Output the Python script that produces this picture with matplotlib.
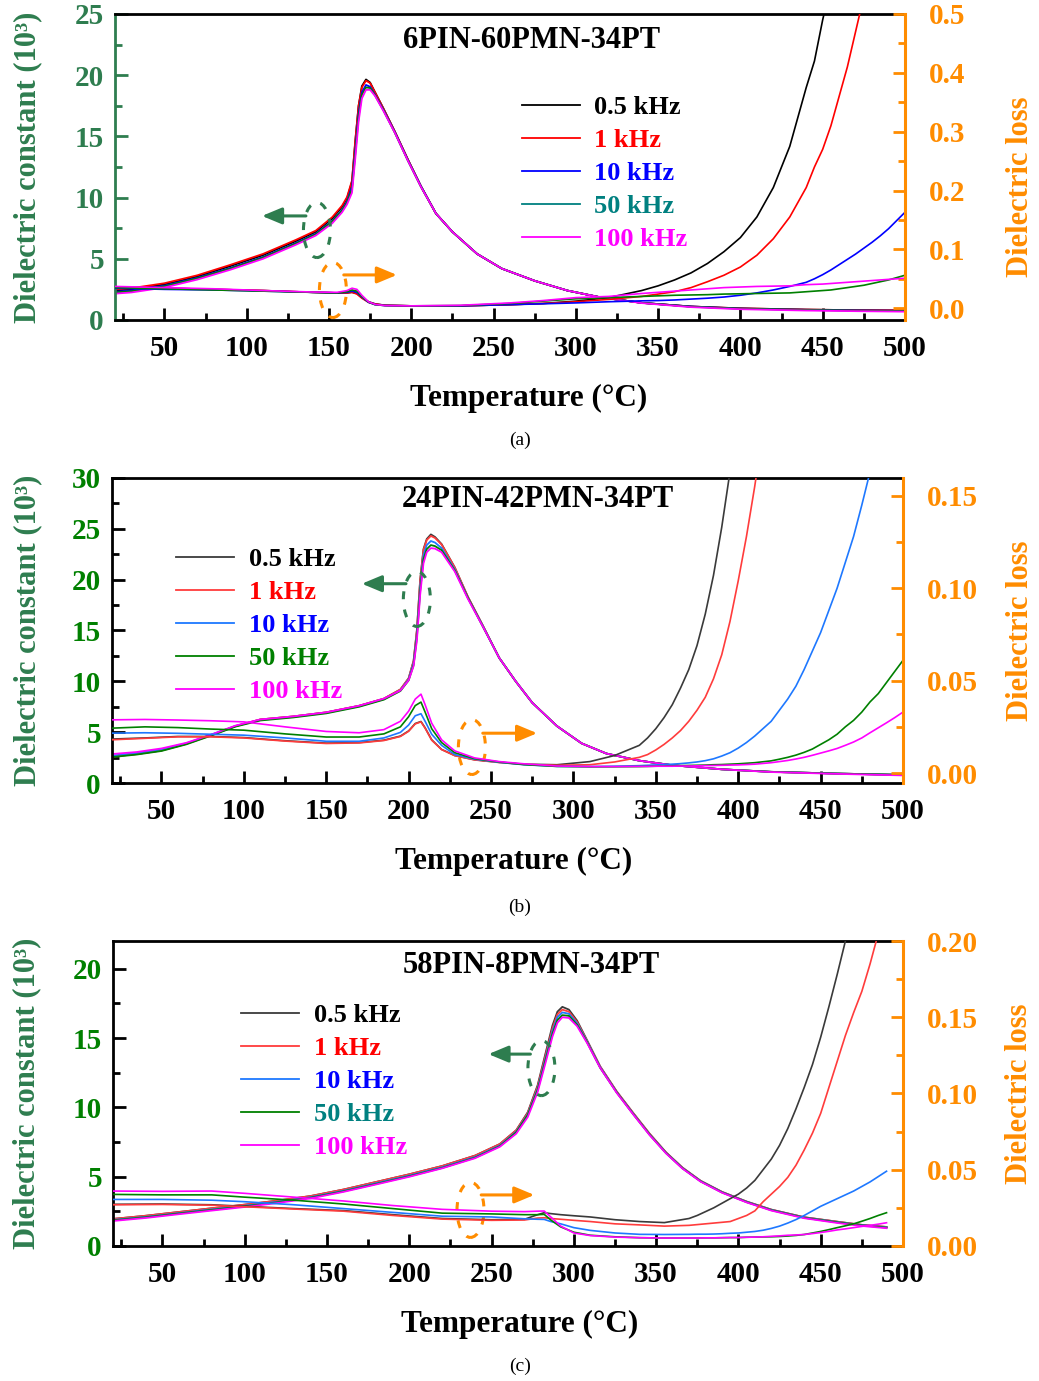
import matplotlib
matplotlib.use('Agg')
import matplotlib.pyplot as plt
from matplotlib.patches import Ellipse, FancyArrowPatch
from matplotlib.lines import Line2D
from matplotlib.ticker import MultipleLocator

# --- fonts ---
plt.rcParams['font.family'] = ['Liberation Serif', 'DejaVu Serif']
plt.rcParams['font.weight'] = 'bold'
plt.rcParams['axes.labelweight'] = 'bold'
plt.rcParams['axes.linewidth'] = 2.0

FREQS = ['0.5 kHz', '1 kHz', '10 kHz', '50 kHz', '100 kHz']

# ---------------- (a) 6PIN-60PMN-34PT ----------------
TA = [20, 30, 50, 70, 90, 110, 130, 142, 152, 158, 161, 164, 166, 168, 170, 172.5, 175, 178, 183,
      190, 198, 206, 215, 225, 240, 255, 275, 295, 315, 340, 370, 400, 440, 470, 500]
A_EPS_05 = [2.40, 2.50, 2.90, 3.55, 4.40, 5.30, 6.45, 7.20, 8.30, 9.25, 9.95, 11.3, 14.6, 17.5, 19.1, 19.65, 19.4, 18.6, 17.3,
            15.4, 13.1, 10.9, 8.7, 7.2, 5.4, 4.2, 3.2, 2.4, 1.85, 1.40, 1.10, 0.95, 0.85, 0.80, 0.78]
A_EPS_1 = [2.50, 2.60, 3.00, 3.65, 4.50, 5.40, 6.55, 7.30, 8.40, 9.35, 10.05, 11.4, 14.7, 17.5, 19.0, 19.55, 19.35, 18.6, 17.3,
           15.4, 13.1, 10.9, 8.7, 7.2, 5.4, 4.2, 3.2, 2.4, 1.85, 1.40, 1.10, 0.95, 0.85, 0.80, 0.78]
A_EPS_10 = [2.30, 2.40, 2.80, 3.45, 4.25, 5.15, 6.30, 7.05, 8.10, 9.00, 9.70, 10.9, 13.9, 16.9, 18.6, 19.2, 19.05, 18.4, 17.2,
            15.35, 13.05, 10.9, 8.7, 7.2, 5.4, 4.2, 3.2, 2.4, 1.85, 1.40, 1.10, 0.93, 0.83, 0.78, 0.75]
A_EPS_50 = [2.25, 2.35, 2.75, 3.40, 4.20, 5.10, 6.25, 7.00, 8.05, 8.95, 9.60, 10.7, 13.6, 16.6, 18.4, 19.0, 18.95, 18.35, 17.15,
            15.3, 13.0, 10.85, 8.7, 7.2, 5.4, 4.2, 3.2, 2.4, 1.85, 1.40, 1.08, 0.92, 0.82, 0.76, 0.73]
A_EPS_100 = [2.15, 2.25, 2.65, 3.30, 4.10, 5.00, 6.15, 6.90, 7.90, 8.80, 9.45, 10.4, 13.2, 16.2, 18.1, 18.8, 18.8, 18.3, 17.1,
             15.3, 13.0, 10.85, 8.7, 7.2, 5.4, 4.2, 3.2, 2.4, 1.85, 1.38, 1.05, 0.88, 0.77, 0.72, 0.68]

TA_L = [20, 50, 80, 110, 140, 155, 161, 164, 167, 170, 174, 178, 184, 200, 230, 260, 280,
        300, 320, 340, 350, 360, 370, 380, 390, 400, 410, 420, 430, 440, 445, 450, 455, 460, 465, 470,
        475, 480, 485, 490, 495, 500]
A_LOSS_05 = [0.036, 0.034, 0.032, 0.030, 0.027, 0.026, 0.026, 0.027, 0.025, 0.018, 0.011, 0.0075, 0.005, 0.004, 0.004, 0.006, 0.008,
             0.012, 0.018, 0.030, 0.038, 0.048, 0.060, 0.076, 0.096, 0.120, 0.155, 0.205, 0.275, 0.375, 0.42, 0.49, 0.55]
A_LOSS_1 = [0.036, 0.034, 0.032, 0.030, 0.027, 0.026, 0.026, 0.027, 0.024, 0.017, 0.010, 0.007, 0.005, 0.004, 0.004, 0.006, 0.008,
            0.011, 0.015, 0.020, 0.024, 0.028, 0.035, 0.045, 0.056, 0.070, 0.090, 0.118, 0.155, 0.205, 0.24, 0.27, 0.31, 0.36,
            0.41, 0.47, 0.53]
A_LOSS_10 = [0.034, 0.032, 0.031, 0.029, 0.027, 0.026, 0.027, 0.029, 0.027, 0.019, 0.010, 0.006, 0.0045, 0.004, 0.004, 0.006, 0.0075,
             0.009, 0.011, 0.0125, 0.013, 0.014, 0.0155, 0.017, 0.019, 0.022, 0.026, 0.031, 0.037, 0.044, 0.050, 0.057, 0.065,
             0.074, 0.083, 0.092, 0.102, 0.112, 0.123, 0.135, 0.149, 0.163]
A_LOSS_50 = [0.035, 0.033, 0.031, 0.029, 0.027, 0.026, 0.028, 0.031, 0.029, 0.020, 0.0105, 0.006, 0.0045, 0.004, 0.0045, 0.008, 0.012,
             0.016, 0.018, 0.020, 0.021, 0.022, 0.0225, 0.023, 0.024, 0.0245, 0.025, 0.0255, 0.026, 0.028, 0.029, 0.030, 0.031,
             0.033, 0.035, 0.037, 0.039, 0.042, 0.045, 0.048, 0.052, 0.056]
A_LOSS_100 = [0.037, 0.035, 0.033, 0.030, 0.0275, 0.027, 0.030, 0.034, 0.032, 0.022, 0.011, 0.0065, 0.0045, 0.004, 0.005, 0.009, 0.013,
              0.018, 0.020, 0.025, 0.027, 0.029, 0.031, 0.033, 0.035, 0.036, 0.037, 0.0375, 0.038, 0.040, 0.0405, 0.041, 0.042,
              0.043, 0.044, 0.045, 0.046, 0.047, 0.048, 0.049, 0.050, 0.051]

# ---------------- (b) 24PIN-42PMN-34PT ----------------
TB = [20, 35, 50, 65, 80, 95, 110, 130, 150, 170, 185, 195, 200, 203, 205, 207, 209, 211, 213.5, 216,
      220, 228, 236, 245, 255, 265, 275, 290, 305, 320, 340, 360, 390, 420, 460, 500]
B_EPS_05 = [2.6, 2.85, 3.2, 3.85, 4.7, 5.6, 6.25, 6.55, 6.95, 7.6, 8.3, 9.2, 10.3, 12.0, 15.0, 20.0, 23.0, 24.0, 24.45, 24.2,
            23.5, 21.2, 18.3, 15.5, 12.3, 10.0, 7.9, 5.6, 3.9, 2.9, 2.2, 1.75, 1.35, 1.1, 0.93, 0.8]
B_EPS_1 = [2.6, 2.85, 3.2, 3.85, 4.7, 5.6, 6.25, 6.55, 6.95, 7.6, 8.3, 9.2, 10.3, 12.0, 15.0, 19.9, 22.9, 23.9, 24.3, 24.1,
           23.45, 21.2, 18.3, 15.5, 12.3, 10.0, 7.9, 5.6, 3.9, 2.9, 2.2, 1.75, 1.35, 1.1, 0.93, 0.8]
B_EPS_10 = [2.7, 2.95, 3.3, 3.9, 4.75, 5.6, 6.2, 6.5, 6.9, 7.55, 8.25, 9.1, 10.2, 11.8, 14.6, 19.3, 22.4, 23.4, 23.8, 23.65,
            23.1, 21.0, 18.2, 15.45, 12.3, 10.0, 7.9, 5.6, 3.9, 2.9, 2.2, 1.75, 1.35, 1.1, 0.93, 0.8]
B_EPS_50 = [2.55, 2.8, 3.15, 3.8, 4.65, 5.55, 6.15, 6.45, 6.85, 7.5, 8.2, 9.05, 10.1, 11.6, 14.3, 18.9, 22.0, 23.0, 23.4, 23.3,
            22.9, 20.9, 18.2, 15.4, 12.3, 10.0, 7.9, 5.6, 3.9, 2.9, 2.2, 1.75, 1.35, 1.1, 0.93, 0.8]
B_EPS_100 = [2.85, 3.05, 3.4, 3.95, 4.75, 5.65, 6.25, 6.55, 6.95, 7.6, 8.3, 9.1, 10.1, 11.5, 14.0, 18.5, 21.6, 22.7, 23.1, 23.05,
             22.7, 20.8, 18.1, 15.4, 12.3, 10.0, 7.9, 5.6, 3.9, 2.9, 2.2, 1.75, 1.35, 1.08, 0.9, 0.75]

TB_L = [20, 40, 60, 80, 100, 125, 150, 170, 185, 195, 200, 204, 207.5, 210, 214, 220, 228, 240, 255, 270, 290, 310, 325,
        340, 345, 350, 355, 360, 365, 370, 375, 380, 385, 390, 395, 400, 405, 410, 415, 420, 425, 430, 435, 440, 445,
        450, 455, 460, 465, 470, 475, 480, 485, 490, 495, 500]
B_LOSS_05 = [0.0184, 0.0190, 0.0198, 0.0198, 0.0192, 0.0175, 0.0162, 0.0165, 0.0178, 0.0200, 0.0228, 0.0268, 0.0279, 0.0245,
             0.0180, 0.0128, 0.0095, 0.0072, 0.0058, 0.0048, 0.0045, 0.0062, 0.0095,
             0.015, 0.019, 0.024, 0.030, 0.037, 0.046, 0.056, 0.069, 0.086, 0.107, 0.133, 0.163, 0.2]
B_LOSS_1 = [0.0180, 0.0188, 0.0196, 0.0196, 0.0190, 0.0173, 0.0160, 0.0163, 0.0176, 0.0198, 0.0226, 0.0266, 0.0277, 0.0243,
            0.0178, 0.0127, 0.0094, 0.0071, 0.0057, 0.0047, 0.0042, 0.0045, 0.0060,
            0.0085, 0.010, 0.0125, 0.0155, 0.019, 0.023, 0.028, 0.034, 0.041, 0.051, 0.064, 0.082, 0.104, 0.128, 0.155, 0.185]
B_LOSS_10 = [0.0216, 0.0218, 0.0215, 0.0210, 0.0205, 0.0190, 0.0172, 0.0172, 0.0190, 0.0220, 0.0260, 0.0310, 0.0321, 0.0280,
             0.0210, 0.0150, 0.0100, 0.0075, 0.0058, 0.0045, 0.0036, 0.0035, 0.0037,
             0.0040, 0.0042, 0.0044, 0.0046, 0.0048, 0.0051, 0.0055, 0.0060, 0.0067, 0.0077, 0.0092, 0.011, 0.0135, 0.0165,
             0.020, 0.024, 0.028, 0.034, 0.040, 0.047, 0.056, 0.066, 0.076, 0.088, 0.100, 0.114, 0.128, 0.145, 0.163, 0.18]
B_LOSS_50 = [0.0243, 0.0250, 0.0246, 0.0238, 0.0232, 0.0212, 0.0195, 0.0195, 0.0212, 0.0250, 0.0305, 0.0365, 0.0384, 0.0330,
             0.0240, 0.0165, 0.0110, 0.0078, 0.0060, 0.0046, 0.0036, 0.0034, 0.0034,
             0.0035, 0.0036, 0.0037, 0.0038, 0.0039, 0.0040, 0.0041, 0.0042, 0.0043, 0.0045, 0.0046, 0.0048, 0.0050, 0.0053,
             0.0056, 0.0061, 0.0066, 0.0075, 0.0085, 0.0097, 0.0112, 0.013, 0.0155, 0.018, 0.021, 0.025, 0.0285, 0.033,
             0.0385, 0.043, 0.049, 0.055, 0.061]
B_LOSS_100 = [0.0288, 0.0290, 0.0287, 0.0283, 0.0277, 0.0250, 0.0225, 0.0218, 0.0235, 0.0280, 0.0335, 0.0400, 0.0427, 0.0370,
              0.0270, 0.0180, 0.0120, 0.0082, 0.0062, 0.0050, 0.0038, 0.0035, 0.0035,
              0.0036, 0.0036, 0.0037, 0.0037, 0.0037, 0.0038, 0.0038, 0.0039, 0.0040, 0.0041, 0.0042, 0.0043, 0.0044, 0.0046,
              0.0048, 0.0052, 0.0056, 0.0062, 0.0068, 0.0076, 0.0085, 0.0096, 0.0108, 0.012, 0.0133, 0.015, 0.0168, 0.019,
              0.0218, 0.0245, 0.0272, 0.030, 0.033]

# ---------------- (c) 58PIN-8PMN-34PT ----------------
TC = [20, 40, 60, 80, 100, 120, 140, 160, 180, 200, 220, 240, 255, 265, 272, 278, 283, 287, 290, 293, 297, 302,
      308, 316, 326, 336, 346, 356, 366, 377, 390, 405, 420, 440, 460, 475, 490]
C_EPS_05 = [1.95, 2.18, 2.45, 2.72, 2.98, 3.27, 3.6, 4.07, 4.62, 5.17, 5.77, 6.52, 7.35, 8.35, 9.65, 11.6, 14.0, 15.9, 16.9,
            17.25, 17.05, 16.25, 14.85, 12.95, 11.15, 9.6, 8.1, 6.75, 5.65, 4.7, 3.9, 3.2, 2.62, 2.07, 1.75, 1.52, 1.37]
C_EPS_1 = [1.95, 2.18, 2.45, 2.72, 2.98, 3.27, 3.6, 4.07, 4.62, 5.17, 5.77, 6.52, 7.35, 8.35, 9.6, 11.5, 13.85, 15.7, 16.7,
           17.05, 16.9, 16.15, 14.8, 12.95, 11.15, 9.6, 8.1, 6.75, 5.65, 4.7, 3.9, 3.2, 2.62, 2.07, 1.75, 1.52, 1.37]
C_EPS_10 = [1.88, 2.1, 2.37, 2.64, 2.9, 3.19, 3.52, 3.98, 4.53, 5.08, 5.68, 6.42, 7.25, 8.25, 9.5, 11.35, 13.65, 15.5, 16.5,
            16.85, 16.75, 16.05, 14.75, 12.9, 11.1, 9.55, 8.05, 6.72, 5.62, 4.68, 3.88, 3.18, 2.6, 2.05, 1.72, 1.5, 1.34]
C_EPS_50 = [1.85, 2.07, 2.34, 2.6, 2.86, 3.15, 3.48, 3.94, 4.48, 5.03, 5.63, 6.37, 7.2, 8.2, 9.45, 11.25, 13.5, 15.3, 16.3,
            16.65, 16.6, 15.95, 14.7, 12.85, 11.08, 9.52, 8.03, 6.7, 5.6, 4.66, 3.86, 3.16, 2.58, 2.03, 1.7, 1.48, 1.32]
C_EPS_100 = [1.8, 2.02, 2.29, 2.55, 2.81, 3.1, 3.43, 3.9, 4.44, 4.99, 5.6, 6.33, 7.15, 8.1, 9.3, 11.1, 13.3, 15.1, 16.1,
             16.5, 16.45, 15.85, 14.65, 12.85, 11.05, 9.5, 8.0, 6.68, 5.58, 4.64, 3.84, 3.14, 2.55, 2.0, 1.66, 1.44, 1.28]

TC_L = [20, 50, 80, 100, 130, 160, 190, 220, 250, 270, 278, 282, 286, 292, 300, 310, 325, 340, 355, 370,
        375, 380, 385, 390, 395, 400, 405, 410, 415, 420, 425, 430, 435, 440, 445, 450, 455, 460, 465, 470,
        475, 480, 485, 490]
C_LOSS_05 = [0.0273, 0.0275, 0.0270, 0.0260, 0.0245, 0.0232, 0.0205, 0.0180, 0.0172, 0.0175, 0.0205, 0.0218, 0.0212, 0.0205,
             0.0198, 0.0190, 0.0172, 0.0160, 0.0153, 0.0180,
             0.020, 0.0225, 0.025, 0.028, 0.031, 0.034, 0.038, 0.043, 0.050, 0.057, 0.066, 0.077, 0.090, 0.104, 0.119,
             0.137, 0.157, 0.178, 0.2, 0.225]
C_LOSS_1 = [0.0270, 0.0272, 0.0267, 0.0257, 0.0242, 0.0228, 0.0200, 0.0176, 0.0168, 0.0170, 0.0183, 0.0185, 0.0180, 0.0175,
            0.0168, 0.0160, 0.0145, 0.0138, 0.0130, 0.0135,
            0.014, 0.0145, 0.015, 0.0155, 0.016, 0.018, 0.020, 0.023, 0.029, 0.034, 0.039, 0.045, 0.053, 0.063, 0.074, 0.087,
            0.104, 0.121, 0.138, 0.153, 0.167, 0.185, 0.205, 0.23]
C_LOSS_10 = [0.0305, 0.0305, 0.0300, 0.0290, 0.0270, 0.0245, 0.0220, 0.0195, 0.0190, 0.0178, 0.0175, 0.0174, 0.0160, 0.0145,
             0.0120, 0.0102, 0.0085, 0.0076, 0.0075, 0.0076,
             0.0077, 0.0077, 0.0078, 0.0080, 0.0083, 0.0085, 0.009, 0.0095, 0.0103, 0.0115, 0.013, 0.015, 0.0173, 0.020,
             0.023, 0.026, 0.0285, 0.031, 0.0335, 0.036, 0.039, 0.042, 0.0455, 0.049]
C_LOSS_50 = [0.0338, 0.0335, 0.0335, 0.0320, 0.0300, 0.0275, 0.0245, 0.0215, 0.0210, 0.0205, 0.0205, 0.0207, 0.0170, 0.0125,
             0.0090, 0.0070, 0.0060, 0.0054, 0.0052, 0.0052,
             0.0052, 0.0053, 0.0053, 0.0054, 0.0055, 0.0055, 0.0057, 0.0058, 0.0059, 0.006, 0.0062, 0.0065, 0.0069, 0.0075,
             0.0085, 0.0095, 0.0107, 0.012, 0.0132, 0.0145, 0.0162, 0.018, 0.020, 0.0218]
C_LOSS_100 = [0.0360, 0.0358, 0.0360, 0.0345, 0.0320, 0.0295, 0.0265, 0.0240, 0.0228, 0.0225, 0.0228, 0.0229, 0.0190, 0.0130,
              0.0085, 0.0068, 0.0058, 0.0054, 0.0052, 0.0052,
              0.0052, 0.0053, 0.0053, 0.0054, 0.0055, 0.0055, 0.0057, 0.0058, 0.006, 0.0063, 0.0066, 0.0070, 0.0072, 0.0075,
              0.0081, 0.0088, 0.0096, 0.0105, 0.0112, 0.012, 0.0128, 0.0135, 0.0143, 0.0152]

# --- colours ---
GREEN_LBL = '#2e7d4f'
GREEN_TICK = '#008000'
ORANGE = '#ff8c00'
A_LINES = ['#000000', '#ff0000', '#0000ff', '#008000', '#ff00ff']
A_KEYS = ['#000000', '#ff0000', '#0000ff', '#008080', '#ff00ff']
BC_LINES = ['#3a3a3a', '#ff3c3c', '#1e78ff', '#008000', '#ff00ff']
B_TEXT = ['#000000', '#ff0000', '#0000ff', '#008000', '#ff00ff']
C_TEXT = ['#000000', '#ff0000', '#0000ff', '#008080', '#ff00ff']

fig = plt.figure(figsize=(10.39, 13.81), dpi=100)


def panel(rect, title, title_xy, t_eps, eps_sets, t_loss, loss_sets, line_cols, key_cols, text_cols,
          eps_lim, eps_major, loss_lim, loss_major, loss_fmt, left_col, tick_col, leg_xy,
          xlab_x, ylab_x, ylab2_xy, marks):
    ax = fig.add_axes(rect)
    ax2 = ax.twinx()

    for vals, c in zip(eps_sets, line_cols):
        ax.plot(t_eps[:len(vals)], vals, color=c, lw=1.3)
    for vals, c in zip(loss_sets, line_cols):
        ax2.plot(t_loss[:len(vals)], vals, color=c, lw=1.2)

    ax.set_xlim(20, 500)
    ax.set_ylim(*eps_lim)
    ax2.set_ylim(*loss_lim)

    ax.xaxis.set_major_locator(MultipleLocator(50))
    ax.xaxis.set_minor_locator(MultipleLocator(25))
    ax.yaxis.set_major_locator(MultipleLocator(eps_major))
    ax.yaxis.set_minor_locator(MultipleLocator(eps_major / 2))
    ax2.yaxis.set_major_locator(MultipleLocator(loss_major))
    ax2.yaxis.set_minor_locator(MultipleLocator(loss_major / 2))
    ax2.yaxis.set_major_formatter(plt.FuncFormatter(lambda v, p: loss_fmt.format(v)))

    ax.tick_params(axis='x', which='both', direction='in', top=False, width=2, labelsize=21, pad=11)
    ax.tick_params(axis='x', which='major', length=9)
    ax.tick_params(axis='x', which='minor', length=5)
    ax.tick_params(axis='y', which='both', direction='in', right=False, width=2, colors=left_col,
                   labelcolor=tick_col, labelsize=21, pad=8)
    ax.tick_params(axis='y', which='major', length=9)
    ax.tick_params(axis='y', which='minor', length=5)
    ax2.tick_params(axis='y', which='both', direction='in', width=2, colors=ORANGE, labelsize=21, pad=17)
    ax2.tick_params(axis='y', which='major', length=9)
    ax2.tick_params(axis='y', which='minor', length=5)

    for s in ('left', 'top', 'bottom'):
        ax2.spines[s].set_visible(False)
    ax.spines['right'].set_visible(False)
    ax.spines['left'].set_color(left_col)
    ax2.spines['right'].set_color(ORANGE)
    ax2.spines['right'].set_linewidth(2.2)

    ax.set_xlabel('Temperature (°C)', fontsize=22.5, fontweight='bold', va='center')
    ax.xaxis.set_label_coords(xlab_x, -0.258)
    ax.set_ylabel('Dielectric constant (10³)', fontsize=22, fontweight='bold', color=GREEN_LBL,
                  va='center', ha='center')
    ax.yaxis.set_label_coords(ylab_x, 0.5)
    ax2.set_ylabel('Dielectric loss', fontsize=22, fontweight='bold', color=ORANGE, rotation=90,
                   va='center', ha='center')
    ax2.yaxis.set_label_coords(*ylab2_xy)

    ax.text(title_xy[0], title_xy[1], title, transform=ax.transAxes, ha='center', va='center',
            fontsize=22, fontweight='bold')

    handles = [Line2D([], [], color=c, lw=1.3) for c in key_cols]
    leg = ax2.legend(handles, FREQS, loc='upper left', bbox_to_anchor=leg_xy, frameon=False, fontsize=19,
                     handlelength=2.2, handletextpad=0.55, labelspacing=0.36, borderpad=0, borderaxespad=0)
    for txt, c in zip(leg.get_texts(), text_cols):
        txt.set_color(c)

    # dashed ellipses with direction arrows, placed in dielectric-constant units
    for (cx, cy, w, h, x0, y0, x1), col in zip(marks, (GREEN_LBL, ORANGE)):
        ring = Ellipse((cx, cy), w, h, fill=False, ec=col, lw=2.2, ls=(0, (2.6, 3.4)), zorder=5)
        ax.add_patch(ring)
        arr = FancyArrowPatch((x0, y0), (x1, y0), arrowstyle='-|>,head_length=0.6,head_width=0.25',
                              mutation_scale=20, lw=2.2, color=col, shrinkA=0, shrinkB=0, zorder=5)
        ax.add_patch(arr)
    return ax, ax2


panel([0.1107, 0.7683, 0.7603, 0.2216], '6PIN-60PMN-34PT', (0.527, 0.912),
      TA, [A_EPS_05, A_EPS_1, A_EPS_10, A_EPS_50, A_EPS_100],
      TA_L, [A_LOSS_05, A_LOSS_1, A_LOSS_10, A_LOSS_50, A_LOSS_100],
      A_LINES, A_KEYS, A_KEYS, (0, 25), 5, (-0.02, 0.5), 0.1, '{:.1f}',
      GREEN_LBL, GREEN_LBL, (0.515, 0.733), 0.524, -0.110, (1.146, 0.435),
      [(142.7, 7.35, 16.4, 4.5, 136, 8.5, 109.3), (152.4, 2.45, 16.4, 4.5, 159, 3.68, 191.3)])

panel([0.1078, 0.4330, 0.7613, 0.2209], '24PIN-42PMN-34PT', (0.539, 0.928),
      TB, [B_EPS_05, B_EPS_1, B_EPS_10, B_EPS_50, B_EPS_100],
      TB_L, [B_LOSS_05, B_LOSS_1, B_LOSS_10, B_LOSS_50, B_LOSS_100],
      BC_LINES, BC_LINES, B_TEXT, (0, 30), 5, (-0.0054, 0.1597), 0.05, '{:.2f}',
      'black', GREEN_TICK, (0.081, 0.771), 0.508, -0.107, (1.148, 0.5),
      [(205, 18.1, 16.4, 5.4, 198.4, 19.6, 171.6), (238.4, 3.54, 16.4, 5.4, 245, 4.9, 278)])

panel([0.1088, 0.0978, 0.7603, 0.2208], '58PIN-8PMN-34PT', (0.529, 0.921),
      TC, [C_EPS_05, C_EPS_1, C_EPS_10, C_EPS_50, C_EPS_100],
      TC_L, [C_LOSS_05, C_LOSS_1, C_LOSS_10, C_LOSS_50, C_LOSS_100],
      BC_LINES, BC_LINES, C_TEXT, (0, 22), 5, (0, 0.2), 0.05, '{:.2f}',
      'black', GREEN_TICK, (0.162, 0.794), 0.515, -0.109, (1.147, 0.5),
      [(280.3, 12.83, 16.4, 3.97, 273.6, 13.84, 248.1), (237.2, 2.6, 16.4, 3.97, 243.7, 3.68, 276)])

for lab, y in (('(a)', 440), ('(b)', 907), ('(c)', 1366)):
    fig.text(520 / 1039, 1 - y / 1381, lab, ha='center', va='center', fontsize=14, fontweight='normal')

fig.savefig('out.png', dpi=100)
